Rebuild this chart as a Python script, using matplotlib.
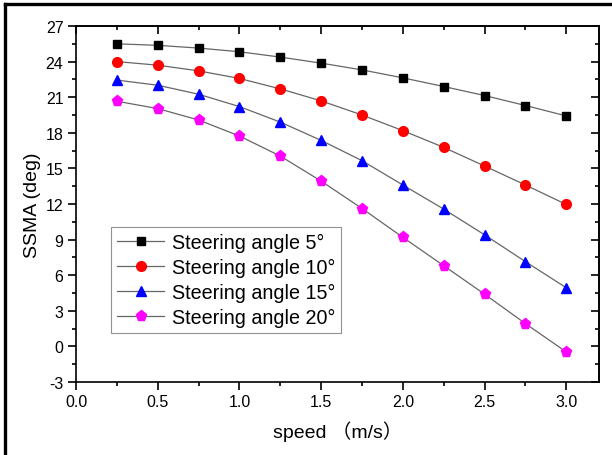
# SSMA vs speed for several steering angles

import matplotlib
matplotlib.use("Agg")
import matplotlib.pyplot as plt
from matplotlib.lines import Line2D
from matplotlib.ticker import MultipleLocator

plt.rcParams["font.family"] = ["Liberation Sans", "Noto Sans CJK SC", "DejaVu Sans"]
plt.rcParams["axes.unicode_minus"] = False

# data
speed = [0.25, 0.5, 0.75, 1.0, 1.25, 1.5, 1.75, 2.0, 2.25, 2.5, 2.75, 3.0]
ssma_5 = [25.5, 25.37, 25.14, 24.83, 24.38, 23.87, 23.3, 22.63, 21.9, 21.14, 20.3, 19.42]
ssma_10 = [24.0, 23.7, 23.22, 22.58, 21.7, 20.69, 19.5, 18.18, 16.77, 15.2, 13.6, 11.96]
ssma_15 = [22.44, 22.01, 21.25, 20.21, 18.9, 17.36, 15.65, 13.6, 11.57, 9.4, 7.14, 4.94]
ssma_20 = [20.66, 20.04, 19.08, 17.73, 16.04, 13.93, 11.62, 9.19, 6.8, 4.4, 1.92, -0.47]
labels = ["Steering angle 5°", "Steering angle 10°", "Steering angle 15°", "Steering angle 20°"]

fig = plt.figure(figsize=(6.12, 4.56), dpi=100)
ax = fig.add_axes([76 / 612, 1 - 383 / 456, (599 - 76) / 612, (383 - 27) / 456])

styles = [
    ("s", "black", 6),
    ("o", "red", 7),
    ("^", "blue", 7.5),
    ("p", "magenta", 8),
]
for y, lab, (m, c, ms) in zip([ssma_5, ssma_10, ssma_15, ssma_20], labels, styles):
    ax.plot(speed, y, color="#666666", linewidth=0.9, marker=m, markersize=ms,
            markerfacecolor=c, markeredgecolor=c, label=lab)

ax.set_xlim(0, 3.2)
ax.set_ylim(-3, 27)
ax.xaxis.set_major_locator(MultipleLocator(0.5))
ax.xaxis.set_minor_locator(MultipleLocator(0.25))
ax.yaxis.set_major_locator(MultipleLocator(3))
ax.yaxis.set_minor_locator(MultipleLocator(1.5))
ax.tick_params(which="both", direction="out", top=False, right=False, labelsize=11.5, width=1.2)
ax.tick_params(which="major", length=5.5)
ax.tick_params(which="minor", length=3)

# inward mirror ticks on top and right, as in the original
ax2 = ax.secondary_xaxis("top")
ax2.xaxis.set_major_locator(MultipleLocator(0.5))
ax2.xaxis.set_minor_locator(MultipleLocator(0.25))
ax2.tick_params(which="both", direction="in", labeltop=False, width=1.2)
ax2.tick_params(which="major", length=5.5)
ax2.tick_params(which="minor", length=3)
ax3 = ax.secondary_yaxis("right")
ax3.yaxis.set_major_locator(MultipleLocator(3))
ax3.yaxis.set_minor_locator(MultipleLocator(1.5))
ax3.tick_params(which="both", direction="in", labelright=False, width=1.2)
ax3.tick_params(which="major", length=5.5)
ax3.tick_params(which="minor", length=3)

for sp in ax.spines.values():
    sp.set_linewidth(1.2)
ax2.spines["top"].set_linewidth(1.2)
ax3.spines["right"].set_linewidth(1.2)

ax.set_xlabel("speed （m/s）", fontsize=14, labelpad=8)
ax.set_ylabel("SSMA (deg)", fontsize=14, labelpad=3)

leg = ax.legend(loc="upper left", bbox_to_anchor=(0.067, 0.435), fontsize=14.2,
                frameon=True, fancybox=False, edgecolor="#777777", borderpad=0.3,
                labelspacing=0.3, handlelength=2.4, handletextpad=0.4, borderaxespad=0)
leg.get_frame().set_linewidth(0.8)

# outer frame of the picture (top and left edge)
fig.add_artist(Line2D([4.5 / 612, 1], [1 - 4.5 / 456, 1 - 4.5 / 456], color="black",
                      linewidth=2.4, transform=fig.transFigure))
fig.add_artist(Line2D([4.5 / 612, 4.5 / 612], [0, 1 - 4.5 / 456], color="black",
                      linewidth=2.4, transform=fig.transFigure))

fig.savefig("out.png", dpi=100)
plt.close("all")
